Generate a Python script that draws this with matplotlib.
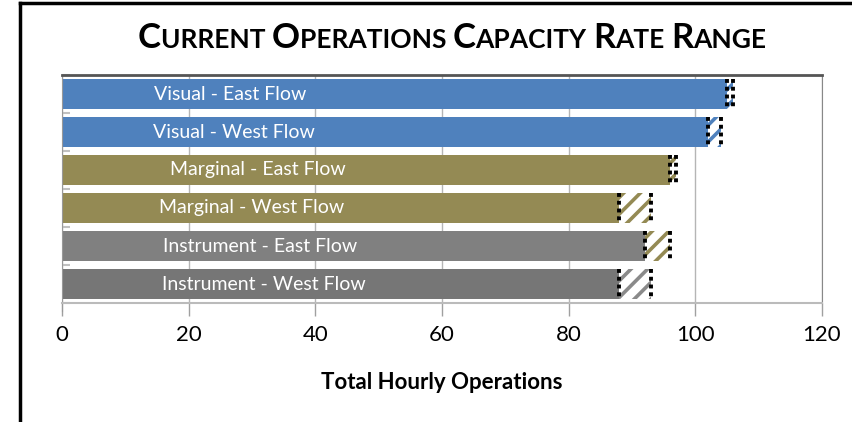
import matplotlib
matplotlib.use("Agg")
import matplotlib.pyplot as plt
from matplotlib.lines import Line2D
import numpy as np

plt.rcParams['font.family'] = ['Lato', 'DejaVu Sans']
plt.rcParams['hatch.linewidth'] = 2.6

categories = ["Visual - East Flow", "Visual - West Flow", "Marginal - East Flow",
              "Marginal - West Flow", "Instrument - East Flow", "Instrument - West Flow"]
low_values = [105, 102, 96, 88, 92, 88]
high_values = [106, 104, 97, 93, 96, 93]
colors = ["#4F81BD", "#4F81BD", "#948A54", "#948A54", "#808080", "#767676"]
hatch_colors = ["#4F81BD", "#4F81BD", "#948A54", "#948A54", "#948A54", "#8a8a8a"]
label_x = [26.5, 27.2, 31.0, 30.0, 31.3, 31.9]
xticks = [0, 20, 40, 60, 80, 100, 120]

fig = plt.figure(figsize=(8.52, 4.22), dpi=100)
ax = fig.add_axes([62/852, 1-303/422, (822-62)/852, (303-75)/422])

y = np.arange(len(categories))
h = 0.79
ax.set_axisbelow(True)
ax.grid(axis='x', color='#b5b5b5', linewidth=1)
for yi, lo, hi, c, hc, lab, lx in zip(y, low_values, high_values, colors, hatch_colors,
                                      categories, label_x):
    ax.barh(yi, lo, height=h, color=c, linewidth=0, zorder=2)
    ax.barh(yi, hi - lo, left=lo, height=h, facecolor='white', edgecolor=hc,
            hatch='//', linewidth=0, zorder=2)
    ax.vlines([lo, hi], yi - h/2, yi + h/2, colors='black', linestyles=(0, (1, 1)),
              linewidth=2.8, zorder=3)
    ax.text(lx, yi, lab, color='white', ha='center', va='center', fontsize=14, zorder=4)

ax.set_xlim(0, 120)
ax.set_ylim(len(categories) - 0.5, -0.5)
ax.set_xticks(xticks)
ax.set_xticklabels([str(t) for t in xticks], fontsize=16)
ax.set_yticks(np.arange(len(categories) + 1) - 0.5)
ax.set_yticklabels([])
ax.tick_params(axis='y', direction='in', length=6, color='#c0c0c0', width=1.5)
ax.tick_params(axis='x', direction='out', length=9, color='#a0a0a0', width=1, pad=7)
ax.spines['top'].set_color('#555555')
ax.spines['top'].set_linewidth(2)
ax.spines['right'].set_color('#888888')
ax.spines['bottom'].set_color('#bbbbbb')
ax.spines['bottom'].set_linewidth(1.5)
ax.spines['left'].set_color('#999999')
ax.spines['left'].set_bounds(len(categories) - 0.5 + 0.2, -0.5)
ax.set_xlabel("Total Hourly Operations", fontsize=16, fontweight='bold', labelpad=19)

# Title in small caps
words = ["Current", "Operations", "Capacity", "Rate", "Range"]
big, small = 25, 19
pieces = []
for i, w in enumerate(words):
    pieces.append((w[0].upper(), big))
    pieces.append((w[1:].upper() + (" " if i < len(words) - 1 else ""), small))
renderer = fig.canvas.get_renderer()
widths = []
for s, fs in pieces:
    t = fig.text(0, 0, s.replace(" ", "\u00a0"), fontsize=fs, fontweight='bold')
    widths.append(t.get_window_extent(renderer).width)
    t.remove()
total = sum(widths)
xpix = 452 - total / 2
base = 1 - 48/422
for (s, fs), wpx in zip(pieces, widths):
    fig.text(xpix / 852, base, s.replace(" ", "\u00a0"), fontsize=fs, fontweight='bold',
             ha='left', va='baseline')
    xpix += wpx

# figure frame lines
fig.add_artist(Line2D([20/852, 20/852], [0, 1 - 3/422], color='black', linewidth=2.5,
                      transform=fig.transFigure))
fig.add_artist(Line2D([20/852, 1], [1 - 3/422, 1 - 3/422], color='black', linewidth=2.5,
                      transform=fig.transFigure))

fig.savefig("out.png", dpi=100)
